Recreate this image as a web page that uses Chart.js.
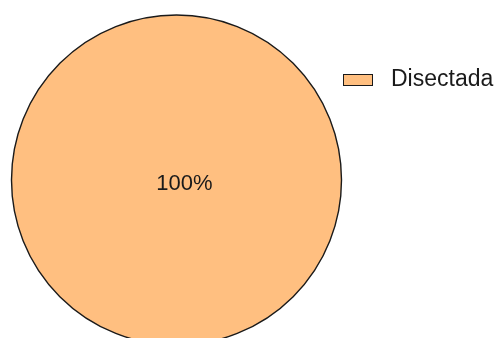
<!DOCTYPE html>
<html>
<head>
<meta charset="utf-8">
<script src="https://cdn.jsdelivr.net/npm/chart.js@4.4.1/dist/chart.umd.min.js"></script>
<style>
    html, body { margin: 0; padding: 0; background: #fff; overflow: hidden; }
    #wrap { position: relative; width: 496px; height: 338px; }
    #pie { display: block; }
    .legend { position: absolute; left: 343px; top: 67px; font-family: 'Liberation Sans', Arial, sans-serif; }
    .legend-item { position: relative; height: 30px; }
    .legend-box { position: absolute; left: 0; top: 7px; width: 30px; height: 12px; box-sizing: border-box; border: 1px solid #1a1a1a; }
    .legend-text { position: absolute; left: 48px; top: 0; font-size: 23px; line-height: 23px; color: #1a1a1a; white-space: nowrap; }
</style>
</head>
<body>
<div id="wrap">
    <canvas id="pie" width="496" height="338"></canvas>
    <div class="legend" id="legend"></div>
</div>
<script>
    'use strict';

    const labels = ['Disectada'];
    const values = [100];
    const colors = ['#FFBF80'];

    // outline only the outer edge (a full slice would otherwise get a radial seam)
    // and write the percentage in the middle of the slice
    const sliceLabels = {
        id: 'sliceLabels',
        afterDatasetsDraw(chart) {
            const { ctx } = chart;
            const meta = chart.getDatasetMeta(0);
            const data = chart.data.datasets[0].data;
            const total = data.reduce((a, b) => a + b, 0);
            ctx.save();
            meta.data.forEach((arc) => {
                ctx.beginPath();
                ctx.arc(arc.x, arc.y, arc.outerRadius, arc.startAngle, arc.endAngle);
                ctx.lineWidth = 1.4;
                ctx.strokeStyle = '#1a1a1a';
                ctx.stroke();
            });
            ctx.font = '22px "Liberation Sans", Arial, sans-serif';
            ctx.fillStyle = '#1a1a1a';
            ctx.textAlign = 'center';
            ctx.textBaseline = 'middle';
            meta.data.forEach((arc, i) => {
                const pct = Math.round(data[i] / total * 100) + '%';
                const full = arc.circumference >= Math.PI * 2 - 1e-6;
                const pos = full ? { x: arc.x + 8, y: arc.y + 4 } : arc.tooltipPosition();
                ctx.fillText(pct, pos.x, pos.y);
            });
            ctx.restore();
        }
    };

    new Chart(document.getElementById('pie').getContext('2d'), {
        type: 'pie',
        data: {
            labels: labels,
            datasets: [{
                data: values,
                backgroundColor: colors,
                borderWidth: 0,
                hoverOffset: 0
            }]
        },
        options: {
            responsive: false,
            animation: false,
            radius: 165,
            layout: { padding: { left: 11, right: 154, top: 22, bottom: 0 } },
            plugins: {
                legend: { display: false },
                tooltip: { enabled: false }
            }
        },
        plugins: [sliceLabels]
    });

    const legendEl = document.getElementById('legend');
    labels.forEach((label, i) => {
        const item = document.createElement('div');
        item.className = 'legend-item';
        item.innerHTML = '<span class="legend-box" style="background:' + colors[i] + '"></span>' +
            '<span class="legend-text">' + label + '</span>';
        legendEl.appendChild(item);
    });
</script>
</body>
</html>
